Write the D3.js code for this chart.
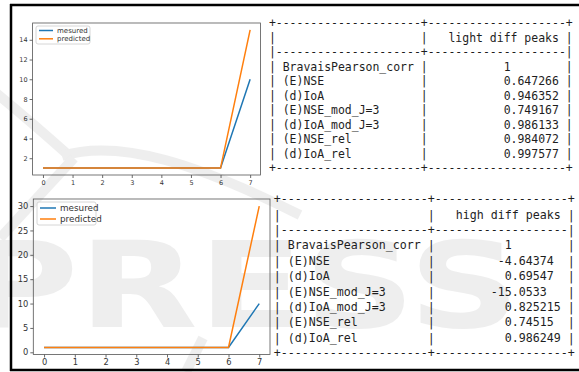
<!DOCTYPE html>
<html>
<head>
<meta charset="utf-8">
<script src="https://cdn.jsdelivr.net/npm/d3@7"></script>
<style>
  body { margin: 0; background: #fff; }
  svg { display: block; }
</style>
</head>
<body>
<svg id="fig" width="579" height="372"></svg>
<script>
// data
const xs = [0, 1, 2, 3, 4, 5, 6, 7];
const lightMeasured = [1, 1, 1, 1, 1, 1, 1, 10];
const lightPredicted = [1, 1, 1, 1, 1, 1, 1, 15];
const highMeasured = [1, 1, 1, 1, 1, 1, 1, 10];
const highPredicted = [1, 1, 1, 1, 1, 1, 1, 30];
const lightTicksY = [2, 4, 6, 8, 10, 12, 14];
const highTicksY = [0, 5, 10, 15, 20, 25, 30];
const seriesNames = ['mesured', 'predicted'];
const metricNames = ['BravaisPearson_corr', '(E)NSE', '(d)IoA', '(E)NSE_mod_J=3', '(d)IoA_mod_J=3', '(E)NSE_rel', '(d)IoA_rel'];
const lightScores = [1, 0.647266, 0.946352, 0.749167, 0.986133, 0.984072, 0.997577];
const highScores = [1, -4.64374, 0.69547, -15.0533, 0.825215, 0.74515, 0.986249];

const colors = ['#1f77b4', '#ff7f0e'];
const svg = d3.select('#fig');

// faint publisher watermark (drawn under the figure content, like the scan)
const wm = svg.append('g').attr('opacity', 0.12);
wm.append('text')
	.attr('x', -35).attr('y', 327)
	.attr('textLength', 555)
	.attr('lengthAdjust', 'spacingAndGlyphs')
	.attr('fill', '#777')
	.style('font-family', 'DejaVu Sans')
	.style('font-weight', 'bold')
	.style('font-size', '120px')
	.text('PRESS');
const arcs = [
	'M-5,92 Q35,125 66,153',
	'M62,156 C120,138 200,165 300,215',
	'M74,158 L0,238',
	'M203,338 L186,372'
];
wm.selectAll('path.arc')
	.data(arcs)
	.join('path')
	.attr('class', 'arc')
	.attr('d', d => d)
	.attr('fill', 'none')
	.attr('stroke', '#777')
	.attr('stroke-width', 10);

function drawChart(cfg) {
	const g = svg.append('g');
	const x = d3.scaleLinear().domain([-0.35, 7.35]).range([cfg.left, cfg.right]);
	const y = d3.scaleLinear().domain(cfg.yDomain).range([cfg.bottom, cfg.top]);

	const xAxis = g.append('g')
		.attr('transform', `translate(0,${cfg.bottom})`)
		.call(d3.axisBottom(x).tickValues(xs).tickSize(3).tickPadding(2));
	const yAxis = g.append('g')
		.attr('transform', `translate(${cfg.left},0)`)
		.call(d3.axisLeft(y).tickValues(cfg.yTicks).tickSize(3).tickPadding(2));
	[xAxis, yAxis].forEach(a => {
		a.select('.domain').remove();
		a.selectAll('line').attr('stroke', '#444').attr('stroke-width', 0.8);
		a.selectAll('text')
			.attr('fill', '#333')
			.style('font-family', 'DejaVu Sans')
			.style('font-size', cfg.font + 'px');
	});

	const line = d3.line().x((d, i) => x(xs[i])).y(d => y(d));
	cfg.series.forEach((s, k) => {
		g.append('path')
			.datum(s)
			.attr('d', line)
			.attr('fill', 'none')
			.attr('stroke', colors[k])
			.attr('stroke-width', 1.5);
	});

	g.append('rect')
		.attr('x', cfg.left).attr('y', cfg.top)
		.attr('width', cfg.right - cfg.left).attr('height', cfg.bottom - cfg.top)
		.attr('fill', 'none').attr('stroke', '#555').attr('stroke-width', 0.8);

	// legend
	const lg = cfg.legend;
	g.append('rect')
		.attr('x', lg.x).attr('y', lg.y).attr('width', lg.w).attr('height', lg.h)
		.attr('rx', 2).attr('fill', '#fff').attr('fill-opacity', 0.8)
		.attr('stroke', '#ccc').attr('stroke-width', 0.8);
	seriesNames.forEach((n, k) => {
		const yy = lg.y + lg.row0 + k * lg.step;
		g.append('line')
			.attr('x1', lg.x + 3).attr('x2', lg.x + 3 + lg.len)
			.attr('y1', yy).attr('y2', yy)
			.attr('stroke', colors[k]).attr('stroke-width', 1.5);
		g.append('text')
			.attr('x', lg.x + lg.textX).attr('y', yy)
			.attr('dy', '0.35em')
			.attr('fill', '#333')
			.style('font-family', 'DejaVu Sans')
			.style('font-size', cfg.font + 0.5 + 'px')
			.text(n);
	});
}

drawChart({
	left: 32.6, right: 260.5, top: 23, bottom: 175,
	yDomain: [0.3, 15.7], yTicks: lightTicksY, font: 6.5,
	series: [lightMeasured, lightPredicted],
	legend: { x: 36, y: 26, w: 54, h: 18, row0: 4.5, step: 8.3, len: 14, textX: 21 }
});
drawChart({
	left: 33.3, right: 270, top: 199, bottom: 354.5,
	yDomain: [-0.45, 31.45], yTicks: highTicksY, font: 8.3,
	series: [highMeasured, highPredicted],
	legend: { x: 37, y: 202, w: 59, h: 23, row0: 6, step: 11, len: 16, textX: 23 }
});

// tables, tabulate "psql" style
function fmtG(v) {
	let s = v.toPrecision(6);
	if (s.includes('.')) s = s.replace(/0+$/, '').replace(/\.$/, '');
	return s;
}

function psqlLines(header, names, values) {
	const nums = values.map(fmtG);
	const intLen = d3.max(nums, s => s.split('.')[0].length);
	const fracLen = d3.max(nums, s => s.includes('.') ? s.split('.')[1].length + 1 : 0);
	const aligned = nums.map(s => {
		const parts = s.split('.');
		const fr = parts.length > 1 ? '.' + parts[1] : '';
		return parts[0].padStart(intLen) + fr.padEnd(fracLen);
	});
	const w1 = d3.max(names, n => n.length);
	const w2 = Math.max(header.length + 2, intLen + fracLen);
	const border = '+' + '-'.repeat(w1 + 2) + '+' + '-'.repeat(w2 + 2) + '+';
	const lines = [border];
	lines.push('| ' + ''.padEnd(w1) + ' | ' + header.padStart(w2) + ' |');
	lines.push('|' + '-'.repeat(w1 + 2) + '+' + '-'.repeat(w2 + 2) + '|');
	names.forEach((n, i) => {
		lines.push('| ' + n.padEnd(w1) + ' | ' + aligned[i].padStart(w2) + ' |');
	});
	lines.push(border);
	return lines;
}

function drawTable(lines, x0, y0, step, size) {
	svg.append('g')
		.selectAll('text')
		.data(lines)
		.join('text')
		.attr('x', x0)
		.attr('y', (d, i) => y0 + i * step)
		.attr('fill', '#1e1e1e')
		.style('font-family', 'DejaVu Sans Mono')
		.style('font-size', size + 'px')
		.style('white-space', 'pre')
		.text(d => d);
}

drawTable(psqlLines('light diff peaks', metricNames, lightScores), 268.9, 27.2, 14.5, 11.47);
drawTable(psqlLines('high diff peaks', metricNames, highScores), 273.8, 203.2, 15.4, 11.63);

// outer frame
const frame = svg.append('g').attr('stroke', '#000').attr('stroke-width', 2.5);
frame.append('line').attr('x1', 11).attr('x2', 11).attr('y1', 4).attr('y2', 371);
frame.append('line').attr('x1', 10).attr('x2', 579).attr('y1', 5).attr('y2', 5);
frame.append('line').attr('x1', 10).attr('x2', 579).attr('y1', 370).attr('y2', 370);
</script>
</body>
</html>
